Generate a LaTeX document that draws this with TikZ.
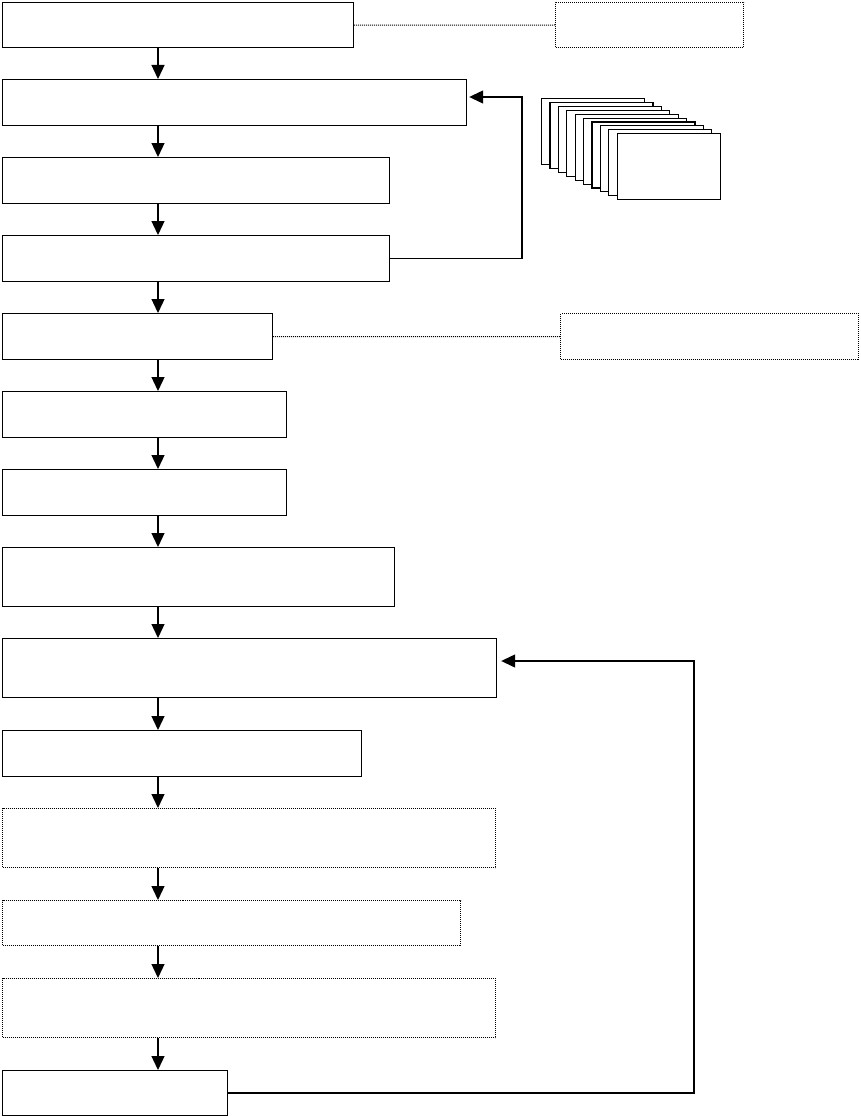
\documentclass[tikz,border=0pt]{standalone}
\usetikzlibrary{arrows.meta}
\begin{document}
\begin{tikzpicture}[x=1pt,y=-1pt,
  box/.style={draw=black, line width=1.2pt, fill=white, anchor=north west, inner sep=0pt},
  dbox/.style={draw=black, line width=1pt, dash pattern=on 1pt off 1pt, fill=white, anchor=north west, inner sep=0pt},
  arr/.style={line width=1.3pt, -{Triangle[width=13pt,length=14pt]}},
  link/.style={line width=1pt, dash pattern=on 1pt off 1pt},
  feed/.style={line width=1.3pt, -{Triangle[width=13pt,length=14pt]}},
  sheet/.style={draw=black, line width=1.1pt, fill=white, anchor=north west, inner sep=0pt, minimum width=103pt, minimum height=66pt}]
\useasboundingbox (0,0) rectangle (860,1116);
\coordinate (ax) at (158,0);
% main column
\node[box, minimum width=351pt, minimum height=45pt] (b1) at (2,2) {};
\node[box, minimum width=464pt, minimum height=46pt] (b2) at (2,79) {};
\node[box, minimum width=387pt, minimum height=46pt] (b3) at (2,157) {};
\node[box, minimum width=387pt, minimum height=46pt] (b4) at (2,235) {};
\node[box, minimum width=270pt, minimum height=46pt] (b5) at (2,313) {};
\node[box, minimum width=284pt, minimum height=46pt] (b6) at (2,391) {};
\node[box, minimum width=284pt, minimum height=46pt] (b7) at (2,469) {};
\node[box, minimum width=392pt, minimum height=59pt] (b8) at (2,547) {};
\node[box, minimum width=494pt, minimum height=59pt] (b9) at (2,638) {};
\node[box, minimum width=359pt, minimum height=46pt] (b10) at (2,730) {};
\node[dbox, minimum width=493pt, minimum height=59pt] (b11) at (2,808) {};
\node[dbox, minimum width=458pt, minimum height=45pt] (b12) at (2,900) {};
\node[dbox, minimum width=493pt, minimum height=59pt] (b13) at (2,978) {};
\node[box, minimum width=225pt, minimum height=45pt] (b14) at (2,1070) {};
% side boxes
\node[dbox, minimum width=188pt, minimum height=45pt] (s1) at (555,2) {};
\node[dbox, minimum width=298pt, minimum height=46pt] (s2) at (560,313) {};
\draw[link] (b1.east) -- (s1.west);
\draw[link] (b5.east) -- (s2.west);
% stacked sheets
\foreach \i in {0,...,9} {
  \node[sheet] (st\i) at ({541+\i*8.4},{98+\i*3.9}) {};
}
% arrows down
\foreach \a/\b in {b1/b2,b2/b3,b3/b4,b4/b5,b5/b6,b6/b7,b7/b8,b8/b9,b9/b10,b10/b11,b11/b12,b12/b13,b13/b14} {
  \draw[arr] (\a.south -| ax) -- (\b.north -| ax);
}
% feedback loops
\coordinate (f1) at (522,97);
\coordinate (f2) at (694,661);
\draw[feed] (b4.east) -| (f1) -- ([xshift=2pt]b2.east |- f1);
\draw[feed] (b14.east) -| (f2) -- ([xshift=4pt]b9.east |- f2);
\end{tikzpicture}
\end{document}
